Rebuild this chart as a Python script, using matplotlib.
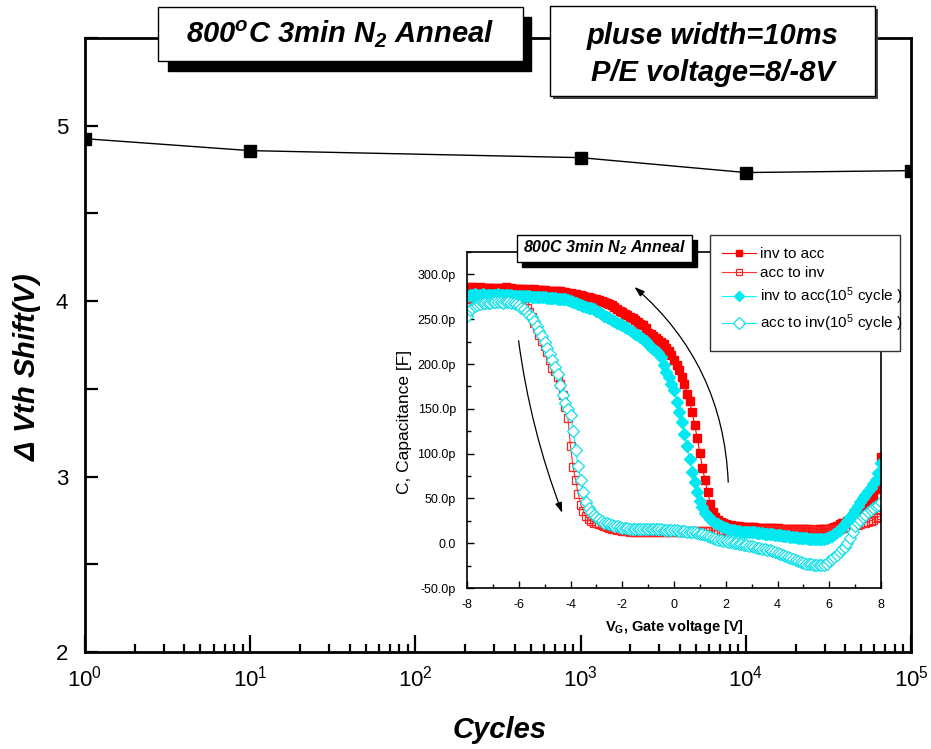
import numpy as np
import matplotlib
matplotlib.use('Agg')
import matplotlib.pyplot as plt
from matplotlib.patches import Rectangle
from matplotlib.ticker import LogLocator, MultipleLocator, FuncFormatter, NullFormatter

plt.rcParams['font.family'] = ['Liberation Sans', 'DejaVu Sans']
plt.rcParams['mathtext.fontset'] = 'custom'
plt.rcParams['mathtext.rm'] = 'Liberation Sans'
plt.rcParams['mathtext.it'] = 'Liberation Sans:italic'
plt.rcParams['mathtext.bf'] = 'Liberation Sans:bold'
plt.rcParams['mathtext.default'] = 'regular'
plt.rcParams['axes.unicode_minus'] = False

# main chart: threshold shift vs P/E cycles
cycles = [1, 10, 1e3, 1e4, 1e5]
vth_shift = [4.926, 4.858, 4.818, 4.733, 4.744]

# inset: C-V sweeps, gate voltage -8..8 V in 0.1 V steps, capacitance in pF
vg = np.round(np.arange(-8, 8.05, 0.1), 1)

inv_to_acc = [
    285, 286, 286, 285, 285, 286, 285, 285, 285, 285,
    285, 285, 284, 285, 285, 286, 285, 285, 284, 284,
    284, 284, 284, 283, 284, 283, 284, 283, 283, 283,
    283, 282, 282, 282, 281, 281, 281, 280, 280, 279,
    279, 278, 278, 277, 277, 276, 275, 275, 274, 273,
    272, 271, 270, 269, 268, 267, 266, 264, 261, 259,
    258, 256, 255, 253, 251, 249, 247, 245, 243, 240,
    235, 233, 231, 229, 227, 225, 222, 218, 214, 210,
    205, 199, 193, 186, 178, 167, 159, 146, 132, 117,
    101, 84, 70, 57, 44, 35, 29, 26, 24, 23,
    21, 20, 20, 19, 19, 19, 18, 18, 18, 18,
    18, 18, 17, 17, 17, 17, 17, 17, 17, 17,
    17, 16, 16, 16, 16, 16, 16, 16, 16, 16,
    16, 16, 16, 15, 15, 15, 16, 16, 16, 16,
    16, 17, 18, 19, 21, 22, 23, 25, 26, 27,
    29, 31, 34, 37, 40, 44, 48, 53, 60, 70,
    96]

acc_to_inv = [
    268, 272, 274, 275, 276, 276, 275, 276, 276, 275,
    275, 275, 275, 275, 276, 275, 275, 275, 274, 273,
    270, 268, 265, 262, 258, 252, 246, 240, 232, 226,
    220, 213, 205, 196, 192, 186, 178, 165, 152, 140,
    108, 85, 70, 55, 43, 36, 30, 27, 25, 23,
    22, 21, 20, 19, 18, 17, 16, 16, 15, 15,
    14, 14, 14, 13, 13, 13, 13, 13, 13, 13,
    13, 13, 13, 13, 13, 13, 13, 13, 13, 13,
    13, 13, 13, 13, 13, 13, 14, 14, 14, 14,
    14, 14, 14, 14, 14, 14, 14, 14, 14, 15,
    15, 15, 15, 15, 15, 15, 15, 15, 15, 15,
    15, 15, 15, 15, 15, 15, 15, 15, 15, 15,
    15, 15, 15, 15, 15, 15, 15, 15, 15, 15,
    15, 15, 15, 15, 14, 14, 14, 14, 14, 15,
    15, 15, 16, 16, 16, 17, 17, 18, 18, 19,
    20, 20, 21, 22, 23, 24, 25, 26, 28, 29,
    31]

inv_to_acc_1e5 = [
    276, 277, 277, 278, 277, 277, 278, 277, 277, 277,
    277, 277, 278, 277, 277, 277, 277, 277, 276, 276,
    276, 276, 276, 276, 276, 275, 275, 275, 275, 275,
    275, 274, 274, 274, 274, 273, 273, 272, 272, 271,
    270, 269, 268, 267, 266, 265, 264, 263, 262, 261,
    259, 258, 256, 254, 252, 251, 249, 248, 246, 245,
    243, 241, 240, 238, 236, 234, 232, 230, 228, 226,
    222, 219, 217, 215, 212, 208, 199, 191, 185, 178,
    171, 158, 146, 135, 122, 108, 94, 80, 68, 57,
    47, 40, 34, 30, 27, 25, 23, 21, 19, 18,
    17, 16, 15, 15, 14, 14, 13, 13, 13, 12,
    12, 12, 11, 11, 11, 10, 10, 10, 10, 9,
    9, 9, 8, 8, 8, 7, 7, 7, 6, 6,
    6, 6, 5, 5, 5, 5, 5, 5, 5, 6,
    7, 8, 10, 12, 15, 18, 21, 25, 29, 33,
    37, 41, 46, 50, 54, 58, 62, 66, 71, 78,
    89]

acc_to_inv_1e5 = [
    254, 260, 263, 265, 266, 267, 268, 268, 268, 268,
    269, 269, 269, 269, 268, 269, 269, 268, 268, 267,
    266, 263, 261, 258, 255, 252, 248, 242, 237, 231,
    225, 218, 211, 204, 197, 189, 177, 165, 156, 150,
    143, 125, 104, 86, 70, 57, 46, 39, 35, 32,
    29, 27, 25, 23, 22, 21, 20, 19, 19, 18,
    17, 17, 17, 16, 16, 16, 16, 16, 16, 16,
    16, 16, 16, 16, 16, 16, 15, 15, 15, 15,
    15, 15, 14, 14, 14, 13, 13, 12, 12, 11,
    10, 10, 9, 8, 7, 6, 5, 4, 4, 3,
    2, 1, 1, 0, 0, -1, -1, -2, -2, -3,
    -3, -4, -5, -5, -6, -7, -8, -8, -9, -10,
    -11, -12, -13, -14, -15, -17, -18, -19, -20, -21,
    -22, -23, -23, -23, -24, -24, -24, -24, -24, -23,
    -20, -18, -15, -13, -10, -7, -4, 0, 6, 13,
    19, 23, 26, 29, 32, 35, 37, 39, 41, 43,
    46]

W, H = 931, 749
fig = plt.figure(figsize=(W / 100, H / 100), dpi=100)


def fr(x0, y0, x1, y1):
    # pixel box (top-left origin) -> figure fraction rect
    return [x0 / W, 1 - y1 / H, (x1 - x0) / W, (y1 - y0) / H]


def box(x0, y0, x1, y1, fc, ec='black', z=5, lw=1):
    r = fr(x0, y0, x1, y1)
    fig.add_artist(Rectangle(r[:2], r[2], r[3], transform=fig.transFigure,
                             facecolor=fc, edgecolor=ec, lw=lw, zorder=z))


ax = fig.add_axes(fr(85, 38, 911, 652))
ax.plot(cycles, vth_shift, color='black', lw=1, marker='s', ms=9)
ax.set_xscale('log')
ax.set_xlim(1, 1e5)
ax.set_ylim(2, 5.5)
ax.set_yticks([2, 3, 4, 5])
ax.yaxis.set_minor_locator(MultipleLocator(0.5))
ax.xaxis.set_major_locator(LogLocator(base=10, numticks=10))
ax.xaxis.set_minor_locator(LogLocator(base=10, subs=np.arange(2, 10), numticks=10))
ax.xaxis.set_minor_formatter(NullFormatter())
for s in ax.spines.values():
    s.set_linewidth(2)
ax.tick_params(which='both', direction='in', top=False, right=False, labelsize=16, width=1.6)
ax.tick_params(axis='x', which='major', length=12, pad=10)
ax.tick_params(axis='x', which='minor', length=6)
ax.tick_params(axis='y', which='major', length=9, pad=12)
ax.tick_params(axis='y', which='minor', length=9)

fig.text(27 / W, 1 - 367 / H, r'$\Delta$ Vth Shift(V)', rotation=90, ha='center', va='center',
         fontsize=21, fontweight='bold', fontstyle='italic')
fig.text(500 / W, 1 - 730 / H, 'Cycles', ha='center', va='center',
         fontsize=21, fontweight='bold', fontstyle='italic')

# title boxes
box(168, 17, 531, 71, 'black')
box(158, 7, 523, 61, 'white', z=6)
fig.text(340 / W, 1 - 34 / H, r'800$^o$C 3min N$_2$ Anneal', ha='center', va='center',
         fontsize=21, fontweight='bold', fontstyle='italic', zorder=7)

box(553, 9, 878, 99, '#444444', ec='none')
box(550, 6, 875, 96, 'white', z=6)
fig.text(713 / W, 1 - 36 / H, 'pluse width=10ms', ha='center', va='center',
         fontsize=21, fontweight='bold', fontstyle='italic', zorder=7)
fig.text(713 / W, 1 - 73 / H, 'P/E voltage=8/-8V', ha='center', va='center',
         fontsize=21, fontweight='bold', fontstyle='italic', zorder=7)

# inset C-V
axi = fig.add_axes(fr(467, 252, 881, 588))
axi.set_zorder(2)
axi.plot(vg, inv_to_acc, color='#ff0000', lw=0.8, marker='s', ms=5.5, mfc='#ff0000', mec='#ff0000',
         label='inv to acc')
axi.plot(vg, acc_to_inv, color='#ff3030', lw=0.8, marker='s', ms=5.5, mfc='none', mec='#ff2020', mew=0.9,
         label='acc to inv')
axi.plot(vg, inv_to_acc_1e5, color='#00ffff', lw=0.8, marker='D', ms=6, mfc='#00e8f0', mec='#00e8f0',
         label='inv to acc(10$^5$ cycle )')
axi.plot(vg, acc_to_inv_1e5, color='#00f0ff', lw=0.8, marker='D', ms=6.5, mfc='white', mec='#10e0e8', mew=0.9,
         label='acc to inv(10$^5$ cycle )')
axi.set_xlim(-8, 8)
axi.set_ylim(-50, 325)
axi.set_xticks(np.arange(-8, 9, 2))
axi.xaxis.set_minor_locator(MultipleLocator(1))
axi.set_yticks(np.arange(-50, 301, 50))
axi.yaxis.set_minor_locator(MultipleLocator(25))
axi.yaxis.set_major_formatter(FuncFormatter(lambda v, p: '0.0' if v == 0 else f'{v:.1f}p'))
axi.tick_params(which='both', direction='in', top=False, right=False, labelsize=9, width=1)
axi.tick_params(which='major', length=5)
axi.tick_params(axis='x', which='major', pad=8)
axi.tick_params(axis='y', which='major', pad=8)
axi.tick_params(which='minor', length=3)
for s in axi.spines.values():
    s.set_linewidth(1.2)
axi.set_xlabel('V$_G$, Gate voltage [V]', fontsize=10.5, fontweight='bold', labelpad=5)
fig.text(404 / W, 1 - 422 / H, 'C, Capacitance [F]', rotation=90, ha='center', va='center',
         fontsize=12.5)

axi.annotate('', xy=(-4.28, 31), xytext=(-6.02, 229),
             arrowprops=dict(arrowstyle='-|>,head_length=0.6,head_width=0.2', color='black', lw=0.9,
                             connectionstyle='arc3,rad=0.06'))
axi.annotate('', xy=(-1.61, 288), xytext=(2.10, 65),
             arrowprops=dict(arrowstyle='-|>,head_length=0.6,head_width=0.2', color='black', lw=0.9,
                             connectionstyle='arc3,rad=0.22'))

# inset title box and legend box
box(522, 240, 697, 267, 'black')
box(517, 235, 692, 262, 'white', z=6)
fig.text(604 / W, 1 - 248 / H, r'800C 3min N$_2$ Anneal', ha='center', va='center',
         fontsize=11.5, fontweight='bold', fontstyle='italic', zorder=7)

box(710, 235, 900, 351, 'white', ec='#333333')
leg = fig.legend(handles=axi.get_lines(), loc='upper left', bbox_to_anchor=(722 / W, 1 - 247 / H),
                 frameon=False, fontsize=11, handlelength=2.2, handletextpad=0.3, labelspacing=0.35,
                 borderaxespad=0, borderpad=0, markerscale=0.9)
leg.set_zorder(8)

fig.savefig('out.png', dpi=100)
